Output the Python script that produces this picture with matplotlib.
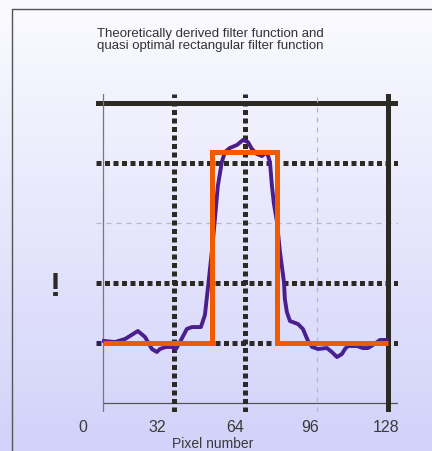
import numpy as np
import matplotlib
matplotlib.use("Agg")
import matplotlib.pyplot as plt
from matplotlib.lines import Line2D

# theoretical filter function (pixel number, amplitude)
theory_x = [0.5, 5.4, 9.9, 12.1, 15.7, 18.9, 22.0, 24.2, 25.6, 28.3, 31.0, 32.8,
            34.6, 37.7, 40.0, 42.2, 44.0, 44.9, 45.8, 47.1, 48.9, 50.3, 51.6, 53.4,
            54.8, 57.0, 60.2, 62.9, 65.1, 66.9, 69.1, 71.4, 73.6, 75.0, 75.9, 76.8,
            78.1, 79.5, 81.3, 81.7, 82.6, 84.0, 87.6, 89.8, 92.1, 93.9, 96.6, 100.6,
            102.8, 105.1, 107.3, 108.7, 110.0, 114.1, 116.7, 119.0, 121.2, 124.4, 127.5]
theory_y = [0.017, 0.008, 0.033, 0.058, 0.100, 0.050, -0.050, -0.075, -0.050, -0.033,
            -0.033, -0.050, 0.008, 0.117, 0.133, 0.133, 0.133, 0.183, 0.233, 0.450,
            0.758, 1.033, 1.308, 1.508, 1.592, 1.625, 1.650, 1.692, 1.675, 1.617,
            1.575, 1.558, 1.592, 1.508, 1.308, 1.158, 1.017, 0.758, 0.508, 0.367,
            0.258, 0.183, 0.158, 0.117, 0.017, -0.033, -0.050, -0.042, -0.075, -0.117,
            -0.092, -0.050, -0.025, -0.025, -0.042, -0.042, -0.017, 0.025, 0.025]

# quasi optimal rectangular filter
rect_edges = [0, 49, 78.3, 128]
rect_levels = [0, 1.59, 0]

tick_labels = ["0", "32", "64", "96", "128"]
tick_label_pos = [-9.0, 24.2, 59.3, 93.0, 127.1]

title = "Theoretically derived filter function and\nquasi optimal rectangular filter function"
xlabel = "Pixel number"

DARK = "#2d2a26"
LIGHT = "#b8b8c4"
narrow = ["Liberation Sans Narrow", "Liberation Sans", "DejaVu Sans"]

fig = plt.figure(figsize=(4.32, 4.52), dpi=100)

# background gradient
bg = fig.add_axes([0, 0, 1, 1], zorder=-10)
grad = np.linspace(0, 1, 256)[:, None]
top = np.array([251, 251, 255]) / 255
bot = np.array([210, 210, 250]) / 255
img = top[None, None, :] * (1 - grad[..., None]) + bot[None, None, :] * grad[..., None]
bg.imshow(img, aspect="auto", extent=[0, 1, 0, 1])
bg.axis("off")

# frame
fig.add_artist(Line2D([12 / 432, 12 / 432, 1], [0, 1 - 10 / 452, 1 - 10 / 452],
                      color="#555555", lw=1))

ax = fig.add_axes([96 / 432, 1 - 413 / 452, 302 / 432, 318 / 452])
ax.patch.set_alpha(0)
ax.set_xlim(-3.1, 132.5)
ax.set_ylim(-0.575, 2.075)
for s in ax.spines.values():
    s.set_visible(False)
ax.set_xticks([])
ax.set_yticks([])

thick = 3.6
dotted = (0, (1, 0.7))
thin_dash = (0, (4, 4))

# horizontal grid lines
ax.axhline(2.0, color=DARK, lw=thick, zorder=1)
ax.axhline(1.5, color=DARK, lw=thick, ls=dotted, zorder=1)
ax.axhline(1.0, color=LIGHT, lw=0.9, ls=thin_dash, zorder=1)
ax.axhline(0.5, color=DARK, lw=thick, ls=dotted, zorder=1)
ax.axhline(0.0, color=DARK, lw=thick, ls=dotted, zorder=1)
ax.hlines(-0.5, 0, 132.5, color="#555555", lw=0.9, zorder=1)

# vertical grid lines
ax.axvline(0, color="#777777", lw=0.9, zorder=1)
ax.axvline(32, color=DARK, lw=thick, ls=dotted, zorder=1)
ax.axvline(64, color=DARK, lw=thick, ls=dotted, zorder=1)
ax.axvline(96, color=LIGHT, lw=0.9, ls=thin_dash, zorder=1)
ax.axvline(128, color=DARK, lw=thick, zorder=1)

ax.plot(theory_x, theory_y, color="#4a1e8c", lw=2.8, zorder=3)
ax.stairs(rect_levels, rect_edges, baseline=None, color="#f25a00", lw=3.6, zorder=4)

for pos, lbl in zip(tick_label_pos, tick_labels):
    ax.text(pos, -0.046, lbl, transform=ax.get_xaxis_transform(), ha="center",
            va="center", fontsize=11.5, color="#3a3a3a", family=["Liberation Sans", "DejaVu Sans"])

fig.text(213 / 432, 1 - 444 / 452, xlabel, ha="center", va="center", fontsize=10,
         color="#3a3a3a", family=narrow)
fig.text(55 / 432, 1 - 288 / 452, "!", ha="center", va="center", fontsize=24,
         fontweight="bold", color=DARK, family=narrow)
fig.text(97 / 432, 1 - 28 / 452, title, ha="left", va="top", fontsize=9.5,
         color="#333333", family=narrow, linespacing=1.0)

fig.savefig("out.png", dpi=100)
